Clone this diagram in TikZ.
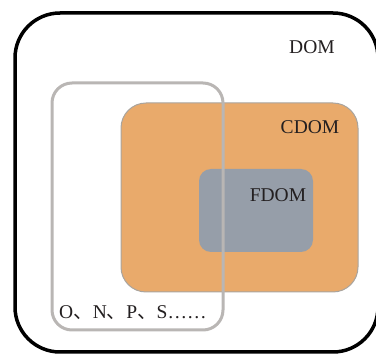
\documentclass[tikz,border=0pt]{standalone}
\usepackage{fontspec}
\setmainfont{Liberation Serif}
\newfontfamily\cjk{Noto Sans CJK SC}
\definecolor{cdomfill}{HTML}{E9AA6B}
\definecolor{cdomedge}{HTML}{A9A49E}
\definecolor{fdomfill}{HTML}{969EA9}
\definecolor{setedge}{HTML}{B9B6B4}
\definecolor{labeltext}{HTML}{231F20}
\tikzset{
  lbl/.style={text=labeltext, font=\fontsize{19.5}{22}\selectfont, inner sep=0pt}
}
\begin{document}
\begin{tikzpicture}[x=1pt,y=1pt]
  \useasboundingbox (0,0) rectangle (376,354);
  % whole DOM pool
  \draw[line width=3.5pt, rounded corners=45pt] (15,2) rectangle (378,13+328);
  % CDOM
  \draw[fill=cdomfill, draw=cdomedge, line width=1pt, rounded corners=25pt] (121,62) rectangle (358,251);
  % FDOM
  \fill[fdomfill, rounded corners=12pt] (199,102) rectangle (313,185);
  % element set
  \draw[setedge, line width=3pt, rounded corners=20pt] (52,24) rectangle (223,271);
  % labels
  \node[lbl] (dom) at (312,307) {DOM};
  \node[lbl] (cdom) at (310,227) {CDOM};
  \node[lbl] (fdom) at (278,159) {FDOM};
  \node[lbl, anchor=west] (elem) at (59,41) {O{\cjk 、}N{\cjk 、}P{\cjk 、}S……};
\end{tikzpicture}
\end{document}
